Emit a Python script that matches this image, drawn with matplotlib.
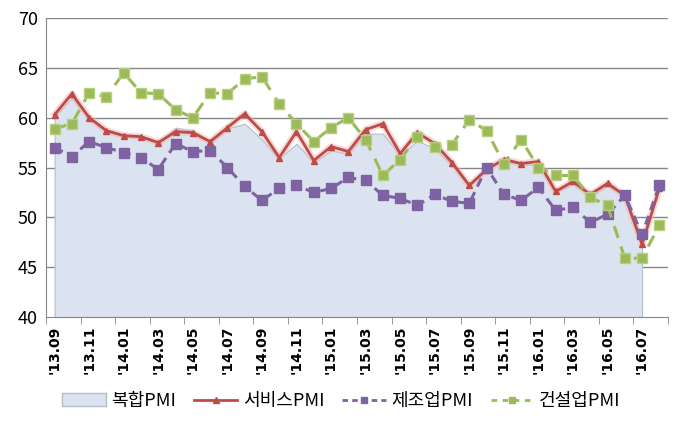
import matplotlib
matplotlib.use('Agg')
import matplotlib.pyplot as plt
from matplotlib.patches import Patch
from matplotlib.lines import Line2D

plt.rcParams['font.family'] = ['Noto Sans CJK KR', 'DejaVu Sans']

# monthly categories '13.09 .. '16.08
months = ["'13.09", "'13.10", "'13.11", "'13.12",
          "'14.01", "'14.02", "'14.03", "'14.04", "'14.05", "'14.06",
          "'14.07", "'14.08", "'14.09", "'14.10", "'14.11", "'14.12",
          "'15.01", "'15.02", "'15.03", "'15.04", "'15.05", "'15.06",
          "'15.07", "'15.08", "'15.09", "'15.10", "'15.11", "'15.12",
          "'16.01", "'16.02", "'16.03", "'16.04", "'16.05", "'16.06",
          "'16.07", "'16.08"]

composite = [60.1, 62.0, 59.9, 58.6, 58.1, 58.0, 57.4, 59.0, 58.7, 57.5,
             58.9, 59.4, 57.8, 55.9, 57.4, 55.5, 56.7, 56.4, 58.4, 58.4,
             56.2, 57.7, 56.9, 55.2, 53.2, 54.9, 55.7, 55.3, 55.3, 52.5,
             53.4, 52.1, 53.2, 52.1, 47.9]
services = [60.3, 62.4, 60.0, 58.7, 58.2, 58.1, 57.5, 58.6, 58.5, 57.6,
            59.0, 60.4, 58.6, 56.0, 58.6, 55.7, 57.1, 56.6, 58.8, 59.4,
            56.4, 58.5, 57.4, 55.5, 53.2, 54.8, 55.8, 55.4, 55.6, 52.6,
            53.6, 52.3, 53.4, 52.2, 47.3, 52.9]
manufacturing = [57.0, 56.1, 57.6, 57.0, 56.5, 56.0, 54.8, 57.4, 56.6, 56.7,
                 55.0, 53.1, 51.7, 52.9, 53.2, 52.5, 52.9, 54.0, 53.7, 52.2,
                 51.9, 51.2, 52.3, 51.6, 51.4, 55.0, 52.3, 51.7, 53.0, 50.7,
                 51.0, 49.5, 50.3, 52.2, 48.3, 53.2]
construction = [58.9, 59.4, 62.5, 62.1, 64.5, 62.5, 62.4, 60.8, 60.0, 62.5,
                62.4, 63.9, 64.1, 61.4, 59.4, 57.6, 59.0, 60.0, 57.8, 54.2,
                55.8, 58.1, 57.1, 57.3, 59.8, 58.7, 55.4, 57.8, 55.0, 54.2,
                54.2, 52.0, 51.2, 45.9, 45.9, 49.2]

x = list(range(len(months)))

fig = plt.figure(figsize=(6.83, 4.23), dpi=100)
ax = fig.add_axes([0.0673, 0.2506, 0.9107, 0.7068])

red = '#BE4B48'
purple = '#7E62A1'
green = '#9BBB59'
area_c = '#DCE3F0'

for y in range(45, 75, 5):
    ax.axhline(y, color='#868686', lw=1, zorder=0)

ax.fill_between(x[:len(composite)], 40, composite, facecolor=area_c,
                edgecolor='#B4BDCC', lw=0.8, zorder=1)

# glow under the services line
ax.plot(x, services, color='#EDB8B6', lw=5, alpha=0.5, zorder=2,
        solid_joinstyle='round')
ax.plot(x, services, color=red, lw=2, marker='^', ms=5, zorder=3)
ax.plot(x, manufacturing, color=purple, lw=2.2, ls=(0, (3, 2)),
        marker='s', ms=6.5, zorder=4)
ax.plot(x, construction, color=green, lw=2.2, ls=(0, (4, 3)),
        marker='s', ms=6.5, mfc=green, mec='#B5CF7F', zorder=4)

ax.set_xlim(-0.5, len(months) - 0.5)
ax.set_ylim(40, 70)
ax.set_yticks(range(40, 75, 5))
ax.tick_params(axis='y', length=0, labelsize=13, pad=6)

ax.set_xticks(x[::2])
ax.set_xticklabels(months[::2], rotation=90, fontsize=10, fontweight='bold',
                   family=['DejaVu Sans'])
ax.set_xticks([i - 0.5 for i in range(0, len(months) + 1, 2)], minor=True)
ax.tick_params(axis='x', which='major', length=0, pad=6)
ax.tick_params(axis='x', which='minor', length=5, color='#868686',
               direction='out')

for s in ['top', 'right']:
    ax.spines[s].set_visible(False)
ax.spines['left'].set_color('#868686')
ax.spines['bottom'].set_color('#868686')

handles = [
    Patch(facecolor=area_c, edgecolor='#B4BDCC', label='복합PMI'),
    Line2D([], [], color=red, lw=2, marker='^', ms=4, label='서비스PMI'),
    Line2D([], [], color=purple, lw=2, ls=(0, (2, 1.5)), marker='s', ms=4,
           label='제조업PMI'),
    Line2D([], [], color=green, lw=2, ls=(0, (2, 2)), marker='s', ms=4,
           label='건설업PMI'),
]
fig.legend(handles=handles, loc='center', bbox_to_anchor=(0.5, 0.052),
           ncol=4, frameon=False, fontsize=13, handlelength=2.4,
           columnspacing=1.0, handletextpad=0.3)

fig.savefig('out.png', dpi=100)
